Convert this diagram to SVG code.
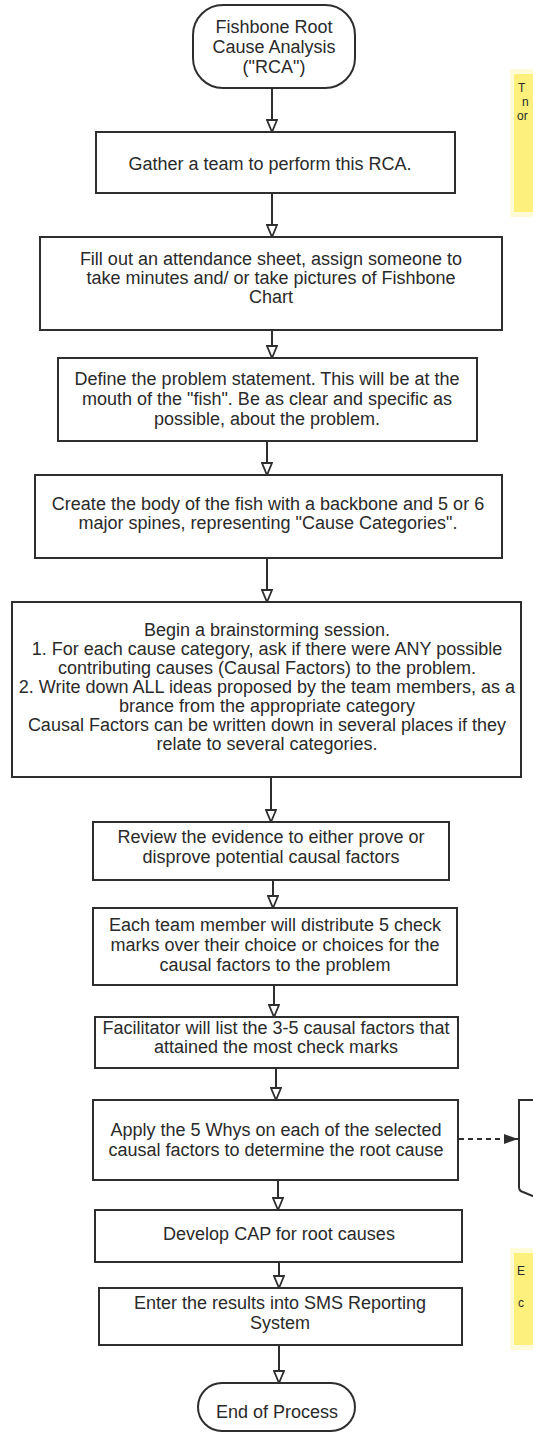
<svg xmlns="http://www.w3.org/2000/svg" width="533" height="1433" viewBox="0 0 533 1433">
  <defs>
    <style>
      .box { fill: #ffffff; stroke: #2e2e2e; stroke-width: 2; }
      .t { font-family: "Liberation Sans", Arial, sans-serif; font-size: 18px; fill: #2a2a2a; text-anchor: middle; }
      .tl { font-family: "Liberation Sans", Arial, sans-serif; font-size: 12px; fill: #2a2a2a; }
      .flow { fill: none; stroke: #2e2e2e; stroke-width: 2; marker-end: url(#openHead); }
      .dash { fill: none; stroke: #2e2e2e; stroke-width: 2; stroke-dasharray: 5 4; marker-end: url(#solidHead); }
      .note { fill: #fdf07c; }
      .halo { fill: #fffbd8; }
    </style>
    <marker id="openHead" viewBox="0 0 14 12" refX="13" refY="6" markerWidth="14" markerHeight="12" markerUnits="userSpaceOnUse" orient="auto">
      <path d="M1,1 L13,6 L1,11 Z" fill="#ffffff" stroke="#2e2e2e" stroke-width="1.8"/>
    </marker>
    <marker id="solidHead" viewBox="0 0 16 12" refX="15" refY="6" markerWidth="16" markerHeight="12" markerUnits="userSpaceOnUse" orient="auto">
      <path d="M1,1 L15,6 L1,11 Z" fill="#2e2e2e"/>
    </marker>
  </defs>

  <rect width="533" height="1433" fill="#ffffff"/>

  <!-- side notes running off the right edge -->
  <g id="note-top">
    <rect class="halo" x="510" y="69" width="30" height="148"/>
    <rect class="note" x="514" y="74" width="26" height="138"/>
    <text class="tl" x="518" y="92">T</text>
    <text class="tl" x="522" y="106">n</text>
    <text class="tl" x="517" y="120">or</text>
  </g>
  <g id="note-bottom">
    <rect class="halo" x="510" y="1248" width="30" height="102"/>
    <rect class="note" x="514" y="1253" width="26" height="92"/>
    <text class="tl" x="517" y="1275">E</text>
    <text class="tl" x="518" y="1307">c</text>
  </g>

  <!-- connectors -->
  <g id="connectors">
    <line class="flow" x1="272" y1="88" x2="272" y2="132"/>
    <line class="flow" x1="272" y1="193" x2="272" y2="237"/>
    <line class="flow" x1="272" y1="330" x2="272" y2="358"/>
    <line class="flow" x1="267" y1="441" x2="267" y2="475"/>
    <line class="flow" x1="267" y1="558" x2="267" y2="602"/>
    <line class="flow" x1="271" y1="777" x2="271" y2="822"/>
    <line class="flow" x1="273" y1="880" x2="273" y2="908"/>
    <line class="flow" x1="274" y1="985" x2="274" y2="1017"/>
    <line class="flow" x1="276" y1="1068" x2="276" y2="1100"/>
    <line class="flow" x1="278" y1="1180" x2="278" y2="1210"/>
    <line class="flow" x1="279" y1="1262" x2="279" y2="1288"/>
    <line class="flow" x1="279" y1="1345" x2="279" y2="1383"/>
    <line class="dash" x1="459" y1="1139" x2="518" y2="1139"/>
  </g>

  <g id="start">
    <rect class="box" x="193" y="5" width="162" height="83" rx="30" ry="30"/>
    <text class="t" x="274" y="33">Fishbone Root</text>
    <text class="t" x="274" y="53">Cause Analysis</text>
    <text class="t" x="274" y="73">("RCA")</text>
  </g>

  <g id="gather-team">
    <rect class="box" x="96" y="132" width="359" height="61"/>
    <text class="t" x="270" y="170">Gather a team to perform this RCA.</text>
  </g>

  <g id="attendance">
    <rect class="box" x="40" y="237" width="462" height="93"/>
    <text class="t" x="271" y="265">Fill out an attendance sheet, assign someone to</text>
    <text class="t" x="271" y="284">take minutes and/ or take pictures of Fishbone</text>
    <text class="t" x="271" y="303">Chart</text>
  </g>

  <g id="problem-statement">
    <rect class="box" x="58" y="358" width="419" height="83"/>
    <text class="t" x="267" y="385">Define the problem statement. This will be at the</text>
    <text class="t" x="267" y="405">mouth of the "fish". Be as clear and specific as</text>
    <text class="t" x="267" y="425">possible, about the problem.</text>
  </g>

  <g id="fish-body">
    <rect class="box" x="35" y="475" width="467" height="83"/>
    <text class="t" x="268" y="510">Create the body of the fish with a backbone and 5 or 6</text>
    <text class="t" x="268" y="529">major spines, representing "Cause Categories".</text>
  </g>

  <g id="brainstorm">
    <rect class="box" x="12" y="602" width="509" height="175"/>
    <text class="t" x="267" y="636">Begin a brainstorming session.</text>
    <text class="t" x="267" y="655">1. For each cause category, ask if there were ANY possible</text>
    <text class="t" x="267" y="674">contributing causes (Causal Factors) to the problem.</text>
    <text class="t" x="267" y="693">2. Write down ALL ideas proposed by the team members, as a</text>
    <text class="t" x="267" y="712">brance from the appropriate category</text>
    <text class="t" x="267" y="731">Causal Factors can be written down in several places if they</text>
    <text class="t" x="267" y="750">relate to several categories.</text>
  </g>

  <g id="review-evidence">
    <rect class="box" x="93" y="822" width="356" height="58"/>
    <text class="t" x="271" y="843">Review the evidence to either prove or</text>
    <text class="t" x="271" y="863">disprove potential causal factors</text>
  </g>

  <g id="check-marks">
    <rect class="box" x="93" y="908" width="364" height="77"/>
    <text class="t" x="275" y="931">Each team member will distribute 5 check</text>
    <text class="t" x="275" y="951">marks over their choice or choices for the</text>
    <text class="t" x="275" y="971">causal factors to the problem</text>
  </g>

  <g id="top-factors">
    <rect class="box" x="95" y="1017" width="363" height="51"/>
    <text class="t" x="276" y="1034">Facilitator will list the 3-5 causal factors that</text>
    <text class="t" x="276" y="1053">attained the most check marks</text>
  </g>

  <g id="five-whys">
    <rect class="box" x="93" y="1100" width="365" height="80"/>
    <text class="t" x="276" y="1136">Apply the 5 Whys on each of the selected</text>
    <text class="t" x="276" y="1156">causal factors to determine the root cause</text>
  </g>

  <g id="whys-document">
    <path class="box" d="M545,1100 L519,1100 L519,1187 Q519,1191 523,1192 L545,1201 Z"/>
  </g>

  <g id="develop-cap">
    <rect class="box" x="95" y="1210" width="367" height="52"/>
    <text class="t" x="279" y="1240">Develop CAP for root causes</text>
  </g>

  <g id="sms-entry">
    <rect class="box" x="99" y="1288" width="363" height="57"/>
    <text class="t" x="280" y="1309">Enter the results into SMS Reporting</text>
    <text class="t" x="280" y="1329">System</text>
  </g>

  <g id="end">
    <rect class="box" x="198" y="1383" width="157" height="48" rx="24" ry="24"/>
    <text class="t" x="277" y="1418">End of Process</text>
  </g>
</svg>
